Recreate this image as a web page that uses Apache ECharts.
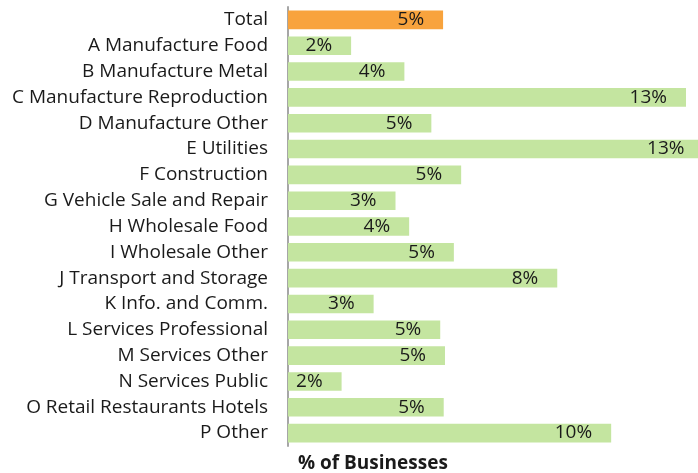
<!DOCTYPE html>
<html>
<head>
<meta charset="utf-8">
<script src="https://cdn.jsdelivr.net/npm/echarts@6/dist/echarts.min.js"></script>
<style>
  html, body { margin: 0; padding: 0; background: #fff; }
  #chart { width: 698px; height: 473px; }
</style>
</head>
<body>
<div id="chart"></div>
<script>
// categories, top to bottom
const categories = [
    'Total', 'A Manufacture Food', 'B Manufacture Metal', 'C Manufacture Reproduction',
    'D Manufacture Other', 'E Utilities', 'F Construction', 'G Vehicle Sale and Repair',
    'H Wholesale Food', 'I Wholesale Other', 'J Transport and Storage', 'K Info. and Comm.',
    'L Services Professional', 'M Services Other', 'N Services Public',
    'O Retail Restaurants Hotels', 'P Other'
]
// % of businesses
const shares = [4.89, 1.99, 3.67, 12.55, 4.52, 13.1, 5.46, 3.39, 3.82, 5.23, 8.49, 2.70, 4.80, 4.95, 1.69, 4.91, 10.19]

const green = '#c4e5a0'
const orange = '#f8a33d'
const font = 'Open Sans'

const chart = echarts.init(document.getElementById('chart'))
chart.setOption({
    animation: false,
    textStyle: { fontFamily: font },
    title: {
        text: '% of Businesses',
        left: 293,
        top: 449,
        textStyle: { fontFamily: font, fontSize: 19, fontWeight: 'bold', color: '#1a1a1a' }
    },
    // plot runs past the right edge, so the longest bar is cut like in the original
    grid: { left: 288, top: 7, width: 444, height: 439, containLabel: false, outerBoundsMode: 'none' },
    xAxis: {
        type: 'value',
        min: 0,
        max: 14,
        show: false
    },
    yAxis: {
        type: 'category',
        inverse: true,
        data: categories,
        axisLine: { show: true, lineStyle: { color: '#a6a6a6', width: 2 } },
        axisTick: { show: false },
        axisLabel: { margin: 20, fontSize: 19, color: '#1a1a1a', fontFamily: font }
    },
    series: [{
        type: 'bar',
        barCategoryGap: '28%',
        data: shares.map((v, i) => ({
            value: v,
            itemStyle: { color: i === 0 ? orange : green }
        })),
        label: {
            show: true,
            position: 'insideRight',
            distance: 19,
            fontSize: 19,
            color: '#1a1a1a',
            fontFamily: font,
            formatter: p => Math.round(p.value) + '%'
        }
    }]
})
</script>
</body>
</html>
